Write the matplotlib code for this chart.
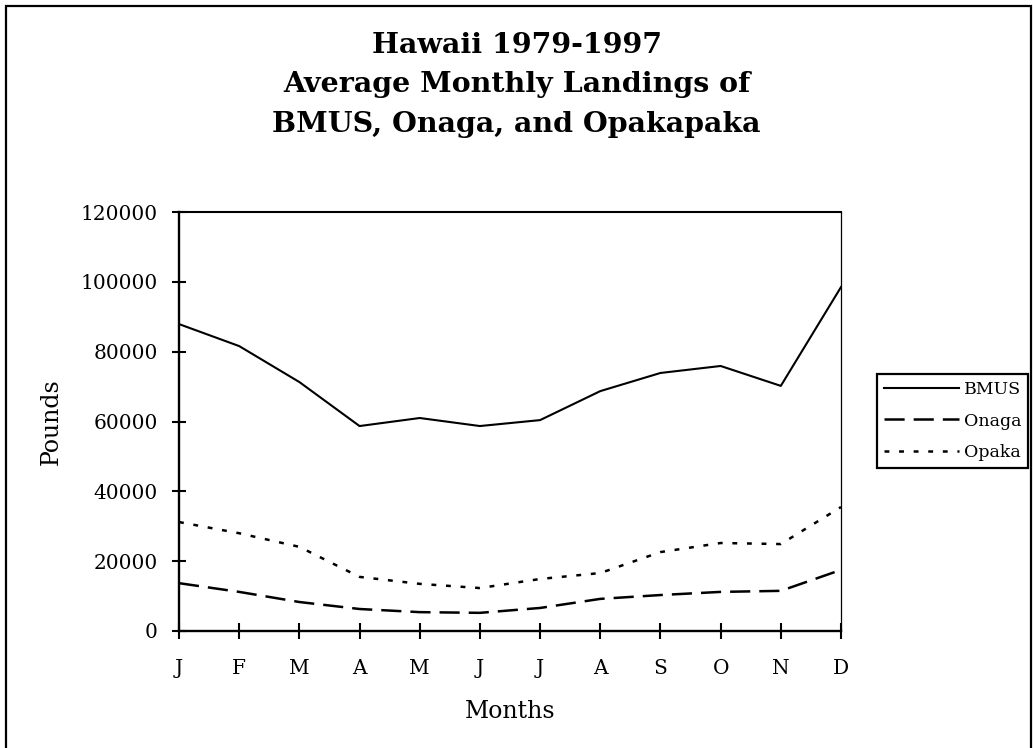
import matplotlib
matplotlib.use("Agg")
import matplotlib.pyplot as plt
from matplotlib.patches import Rectangle

months = ["J", "F", "M", "A", "M", "J", "J", "A", "S", "O", "N", "D"]
bmus = [87900, 81600, 71300, 58700, 61000, 58700, 60400, 68700, 73900, 75900, 70200, 98500]
onaga = [13700, 11200, 8300, 6300, 5400, 5200, 6600, 9200, 10300, 11200, 11500, 17500]
opaka = [31200, 28000, 24100, 15500, 13500, 12300, 14900, 16600, 22600, 25200, 24900, 35500]
yticks = [0, 20000, 40000, 60000, 80000, 100000, 120000]

plt.rcParams['font.family'] = ['DejaVu Serif']
plt.rcParams['lines.scale_dashes'] = False

fig = plt.figure(figsize=(10.33, 7.48), dpi=100)
fig.set_facecolor('white')

# outer chart frame
fig.patches.append(Rectangle((6 / 1033, -0.05), 1025 / 1033, 1.05 - 6 / 748,
                             transform=fig.transFigure, fill=False,
                             edgecolor='black', linewidth=1.6))

fig.text(0.5, 1 - 85 / 748,
         "Hawaii 1979-1997\nAverage Monthly Landings of\nBMUS, Onaga, and Opakapaka",
         ha='center', va='center', fontsize=20.5, fontweight='bold',
         linespacing=1.6)

ax = fig.add_axes([179 / 1033, 1 - 631 / 748, 662 / 1033, 419 / 748])

x = range(len(months))
ax.plot(x, bmus, color='black', linewidth=1.5, label='BMUS')
ax.plot(x, onaga, color='black', linewidth=1.8, linestyle=(0, (14.5, 6.5)), label='Onaga')
ax.plot(x, opaka, color='black', linewidth=1.8, linestyle=(0, (3.5, 7)), label='Opaka')

ax.set_xlim(0, len(months) - 1)
ax.set_ylim(0, 120000)
ax.set_xticks(list(x))
ax.set_xticklabels(months)
ax.set_yticks(yticks)
ax.set_yticklabels([str(v) for v in yticks])

ax.spines['left'].set_linewidth(1.7)
ax.spines['bottom'].set_linewidth(1.7)
ax.spines['top'].set_linewidth(1.5)
ax.spines['right'].set_linewidth(0.9)

ax.tick_params(axis='y', direction='inout', length=9.5, width=1.5, pad=10.5, labelsize=14.5)
ax.tick_params(axis='x', direction='inout', length=11, width=1.5, pad=15, labelsize=14.5)

ax.set_xlabel("Months", fontsize=17, va='center')
ax.set_ylabel("Pounds", fontsize=17, va='center')
ax.xaxis.set_label_coords(0.5, (631 - 712) / 419)
ax.yaxis.set_label_coords((51 - 179) / 662, 0.5)

leg = ax.legend(loc='upper left', bbox_to_anchor=(877 / 1033, 1 - 374 / 748),
                bbox_transform=fig.transFigure, borderaxespad=0,
                fontsize=12.5, handlelength=4.3, handletextpad=0.3,
                labelspacing=0.84, borderpad=0.4, fancybox=False,
                framealpha=1, edgecolor='black')
leg.get_frame().set_linewidth(1.6)

fig.savefig("out.png", dpi=100, facecolor='white')
